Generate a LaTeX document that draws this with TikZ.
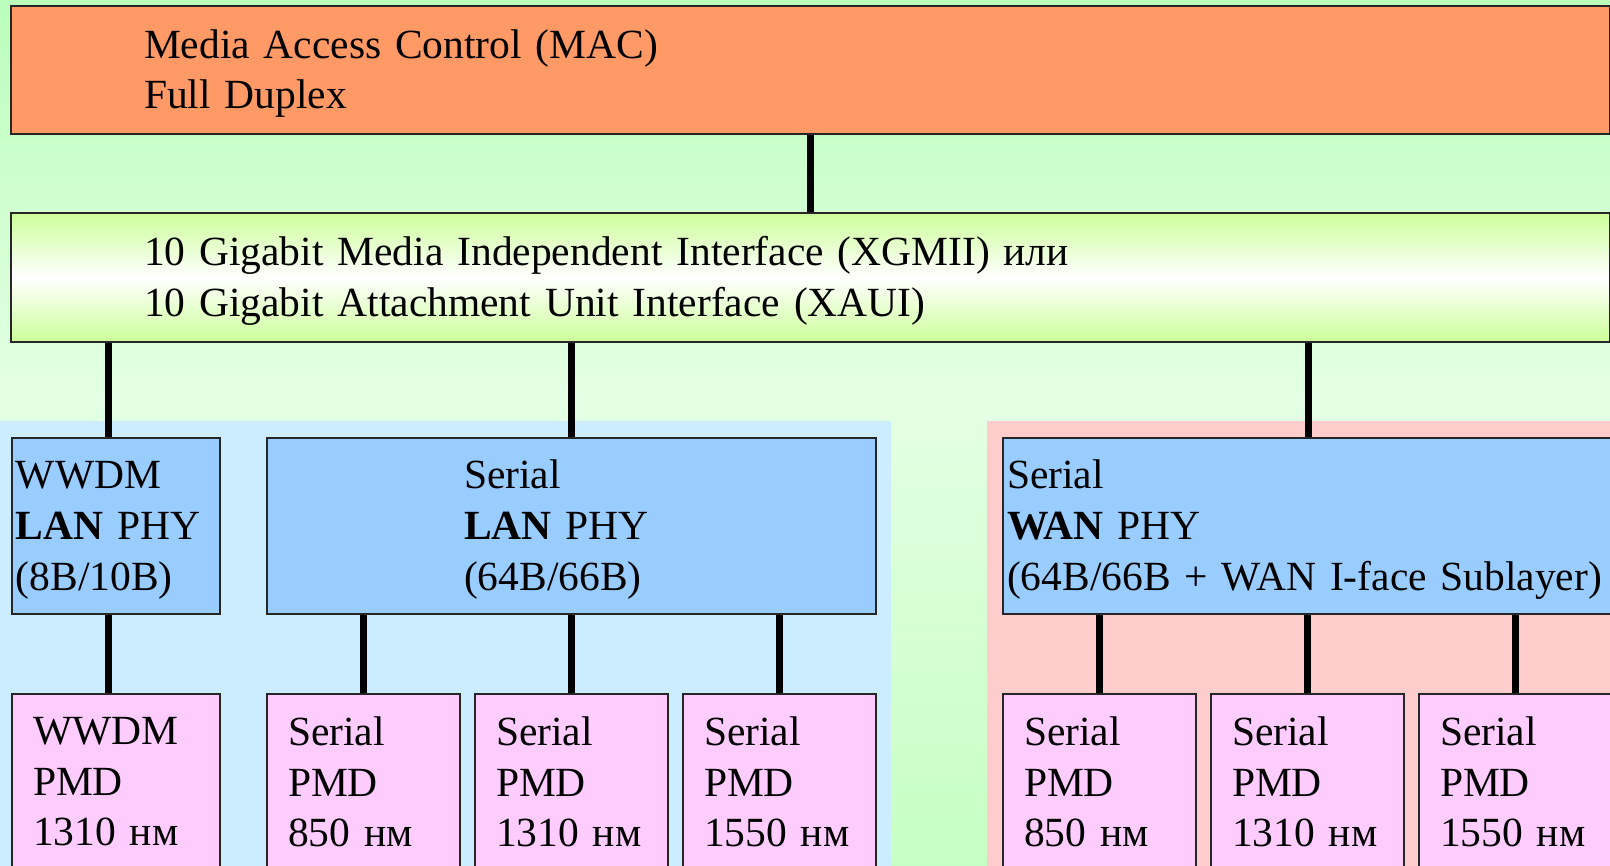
\documentclass[tikz,border=0pt]{standalone}
\usepackage{fontspec}
\setmainfont{Liberation Serif}
\usepackage{xcolor}
\usepackage{tikz}

\definecolor{sfondoAlto}{RGB}{187,253,187}
\definecolor{sfondoMezzo}{RGB}{228,255,228}
\definecolor{sfondoBasso}{RGB}{198,255,195}
\definecolor{zonaLan}{RGB}{204,236,255}
\definecolor{zonaWan}{RGB}{255,204,204}
\definecolor{macCol}{RGB}{255,153,102}
\definecolor{xgCol}{RGB}{204,255,153}
\definecolor{phyCol}{RGB}{153,204,255}
\definecolor{pmdCol}{RGB}{255,204,255}

\begin{document}
\begin{tikzpicture}[x=1pt, y=-1pt, line join=miter,
    box/.style={draw=black!85, line width=2pt, rectangle, anchor=north west,
                align=left, inner ysep=0pt, font=\fontsize{41.5}{50.6}\selectfont},
    abbassa/.style={execute at begin node={\rule{0pt}{36pt}}},
    phybox/.style={box, abbassa, fill=phyCol, minimum height=176pt},
    pmdbox/.style={box, fill=pmdCol, minimum width=193pt, minimum height=176pt,
                   inner xsep=21pt, text width=151pt},
    wire/.style={line width=7pt}]

% Sfondo
\useasboundingbox (0,0) rectangle (1610,866);
\clip (0,0) rectangle (1610,866);
\shade[top color=sfondoAlto, bottom color=sfondoMezzo] (0,0) rectangle (1610,401);
\shade[top color=sfondoMezzo, bottom color=sfondoBasso] (0,400) rectangle (1610,866);
\fill[zonaLan] (0,421) rectangle (891,866);
\fill[zonaWan] (987,421) rectangle (1610,866);

% MAC e XGMII
\node[box, abbassa, fill=macCol, minimum width=1599pt, minimum height=128pt,
      inner xsep=133pt, text width=1333pt] (mac) at (10,5)
      {Media Access Control (MAC)\\Full Duplex};
\node[box, abbassa, top color=xgCol, bottom color=xgCol, middle color=white,
      minimum width=1599pt, minimum height=129pt,
      inner xsep=133pt, text width=1333pt] (xg) at (10,212)
      {10 Gigabit Media Independent Interface (XGMII) или\\10 Gigabit Attachment Unit Interface (XAUI)};

% PHY
\node[phybox, minimum width=208pt, inner xsep=4pt, text width=200pt] (wphy) at (11,437)
      {WWDM\\\textbf{LAN} PHY\\(8B/10B)};
\node[phybox, minimum width=609pt, inner xsep=197pt, text width=215pt] (lphy) at (266,437)
      {Serial\\\textbf{LAN} PHY\\(64B/66B)};
\node[phybox, minimum width=625pt, inner xsep=4pt, text width=617pt] (wanphy) at (1002,437)
      {Serial\\\textbf{WAN} PHY\\(64B/66B + WAN I-face Sublayer)};

% PMD
\node[pmdbox, minimum width=208pt, text width=166pt] (wpmd) at (11,693) {WWDM\\PMD\\1310 нм};
\node[pmdbox] (lpmdA) at (266,693) {Serial\\PMD\\850 нм};
\node[pmdbox] (lpmdB) at (474,693) {Serial\\PMD\\1310 нм};
\node[pmdbox] (lpmdC) at (682,693) {Serial\\PMD\\1550 нм};
\node[pmdbox] (wpmdA) at (1002,693) {Serial\\PMD\\850 нм};
\node[pmdbox] (wpmdB) at (1210,693) {Serial\\PMD\\1310 нм};
\node[pmdbox] (wpmdC) at (1418,693) {Serial\\PMD\\1550 нм};

% Collegamenti
\draw[wire] (mac.south) -- (xg.north);
\draw[wire] ([xshift=-8pt]wphy.north) -- ([xshift=-8pt]wphy.north |- xg.south);
\draw[wire] (lphy.north) -- (lphy.north |- xg.south);
\draw[wire] ([xshift=-7.5pt]wanphy.north) -- ([xshift=-7.5pt]wanphy.north |- xg.south);
\draw[wire] ([xshift=-8pt]wphy.south) -- ([xshift=-8pt]wpmd.north);
\draw[wire] (lpmdA.north) -- (lpmdA.north |- lphy.south);
\draw[wire] (lpmdB.north) -- (lpmdB.north |- lphy.south);
\draw[wire] (lpmdC.north) -- (lpmdC.north |- lphy.south);
\draw[wire] (wpmdA.north) -- (wpmdA.north |- wanphy.south);
\draw[wire] (wpmdB.north) -- (wpmdB.north |- wanphy.south);
\draw[wire] (wpmdC.north) -- (wpmdC.north |- wanphy.south);

\end{tikzpicture}
\end{document}
